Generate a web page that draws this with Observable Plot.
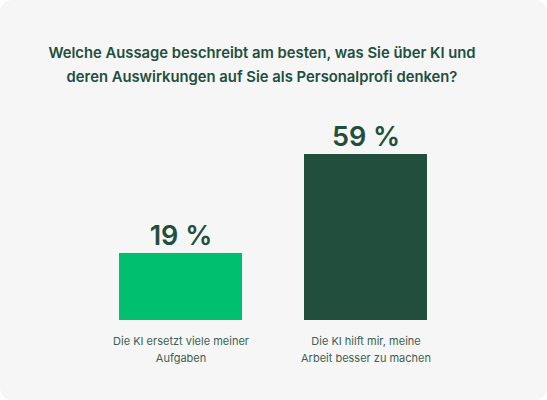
<!DOCTYPE html>
<html>
<head>
<meta charset="utf-8">
<script src="https://cdn.jsdelivr.net/npm/d3@7"></script>
<script src="https://cdn.jsdelivr.net/npm/@observablehq/plot@0.6"></script>
<style>
  html, body { margin: 0; padding: 0; background: #ffffff; }
  #card {
    position: relative; width: 547px; height: 400px; overflow: hidden;
    background: #f5f6f5; border-radius: 12px;
    font-family: Inter, "Noto Sans", sans-serif;
  }
  #title {
    position: absolute; left: 0; top: 41px; width: 524px; text-align: center;
    font-size: 14.8px; font-weight: 600; line-height: 24px; color: #224f3d;
  }
  #chart { position: absolute; left: 0; top: 100px; }
</style>
</head>
<body>
<div id="card">
  <div id="title">Welche Aussage beschreibt am besten, was Sie über KI und<br>deren Auswirkungen auf Sie als Personalprofi denken?</div>
  <div id="chart"></div>
</div>
<script>
const categories = ["Die KI ersetzt viele meiner\nAufgaben", "Die KI hilft mir, meine\nArbeit besser zu machen"];
const values = [19, 59];
const valueLabels = ["19 %", "59 %"];
const barColors = ["#00bf6f", "#224f3d"];
const yBase = -8.1;

const data = categories.map((c, i) => ({category: c, value: values[i], label: valueLabels[i], color: barColors[i]}));

const plot = Plot.plot({
  width: 547,
  height: 300,
  marginTop: 54,
  marginBottom: 80,
  marginLeft: 56,
  marginRight: 57,
  style: {background: "transparent", fontFamily: "Inter, 'Noto Sans', sans-serif", color: "#3f5f52"},
  x: {domain: categories, padding: 0.337, label: null},
  y: {domain: [yBase, 59], axis: null},
  marks: [
    Plot.rectY(data, {x: "category", y1: () => yBase, y2: "value", fill: "color"}),
    Plot.text(data, {x: "category", y: "value", text: "label", dy: -17, fontSize: 27, fontWeight: 600, fill: "#224f3d"}),
    Plot.axisX({tickSize: 0, tickPadding: 12, fontSize: 11, lineHeight: 1.55, label: null, fill: "#3f5f52"})
  ]
});
document.getElementById("chart").appendChild(plot);
</script>
</body>
</html>
